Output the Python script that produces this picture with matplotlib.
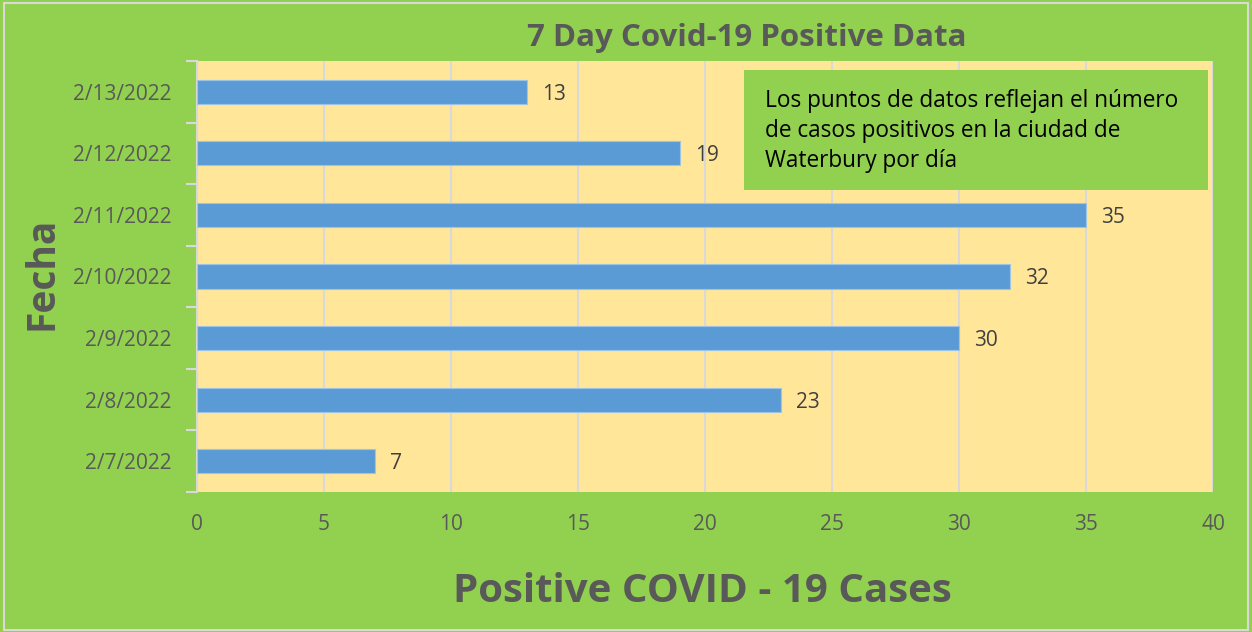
import matplotlib
matplotlib.use("Agg")
import matplotlib.pyplot as plt
from matplotlib.patches import Rectangle
import numpy as np

# data
dates = ["2/7/2022", "2/8/2022", "2/9/2022", "2/10/2022", "2/11/2022", "2/12/2022", "2/13/2022"]
cases = [7, 23, 30, 32, 35, 19, 13]
x_ticks = [0, 5, 10, 15, 20, 25, 30, 35, 40]

green = "#92D050"
paper = "#FFE699"
blue = "#5B9BD5"
txt = "#595959"

plt.rcParams["font.family"] = ["Open Sans", "DejaVu Sans"]

fig = plt.figure(figsize=(12.52, 6.32), dpi=100, facecolor=green)
ax = fig.add_axes([197 / 1252, 1 - 492 / 632, (1213 - 197) / 1252, (492 - 61) / 632])
ax.set_facecolor(paper)

y = np.arange(len(dates))
ax.barh(y, cases, height=0.39, color=blue, edgecolor="#9DC3E6", linewidth=0.8, zorder=3)
for yi, v in zip(y, cases):
    ax.text(v + 0.6, yi, str(v), va="center_baseline", ha="left", fontsize=15, color="#404040")

ax.set_xlim(0, 40)
ax.set_ylim(-0.5, len(dates) - 0.5)
ax.set_xticks(x_ticks)
ax.set_yticks(y)
ax.set_yticklabels(dates)
ax.set_yticks(np.arange(-0.5, len(dates), 1), minor=True)
ax.tick_params(axis="x", length=0, labelsize=15, labelcolor=txt, pad=16)
ax.tick_params(axis="y", which="major", length=0, labelsize=15, labelcolor=txt, pad=18)
ax.tick_params(axis="y", which="minor", length=8, color="#D9D9D9", width=1.5)
ax.grid(axis="x", color="#D9D9D9", linewidth=1.5, zorder=0)
for s in ["top", "right", "bottom"]:
    ax.spines[s].set_visible(False)
ax.spines["left"].set_color("#D9D9D9")
ax.spines["left"].set_linewidth(1.5)

fig.text(747 / 1252, 1 - 38 / 632, "7 Day Covid-19 Positive Data", ha="center", va="center",
         fontsize=22.5, fontweight="bold", color=txt)
fig.text(702 / 1252, 1 - 592 / 632, "Positive COVID - 19 Cases", ha="center", va="center",
         fontsize=29, fontweight="bold", color=txt)
fig.text(42 / 1252, 1 - 273 / 632, "Fecha", ha="center", va="center", rotation=90,
         fontsize=28, fontweight="bold", color=txt)

# note box
fig.patches.append(Rectangle((744 / 1252, 1 - 190 / 632), (1208 - 744) / 1252, 120 / 632,
                             transform=fig.transFigure, facecolor=green, edgecolor="none", zorder=5))
fig.text(765 / 1252, 1 - 131 / 632,
         "Los puntos de datos reflejan el número\nde casos positivos en la ciudad de\nWaterbury por día",
         ha="left", va="center", fontsize=16.3, color="black", linespacing=1.32, zorder=6)

fig.patches.append(Rectangle((4 / 1252, 2 / 632), 1244 / 1252, 627 / 632, transform=fig.transFigure,
                             facecolor="none", edgecolor="#D9D9D9", linewidth=1.5, zorder=10))

fig.savefig("out.png", dpi=100, facecolor=green)
